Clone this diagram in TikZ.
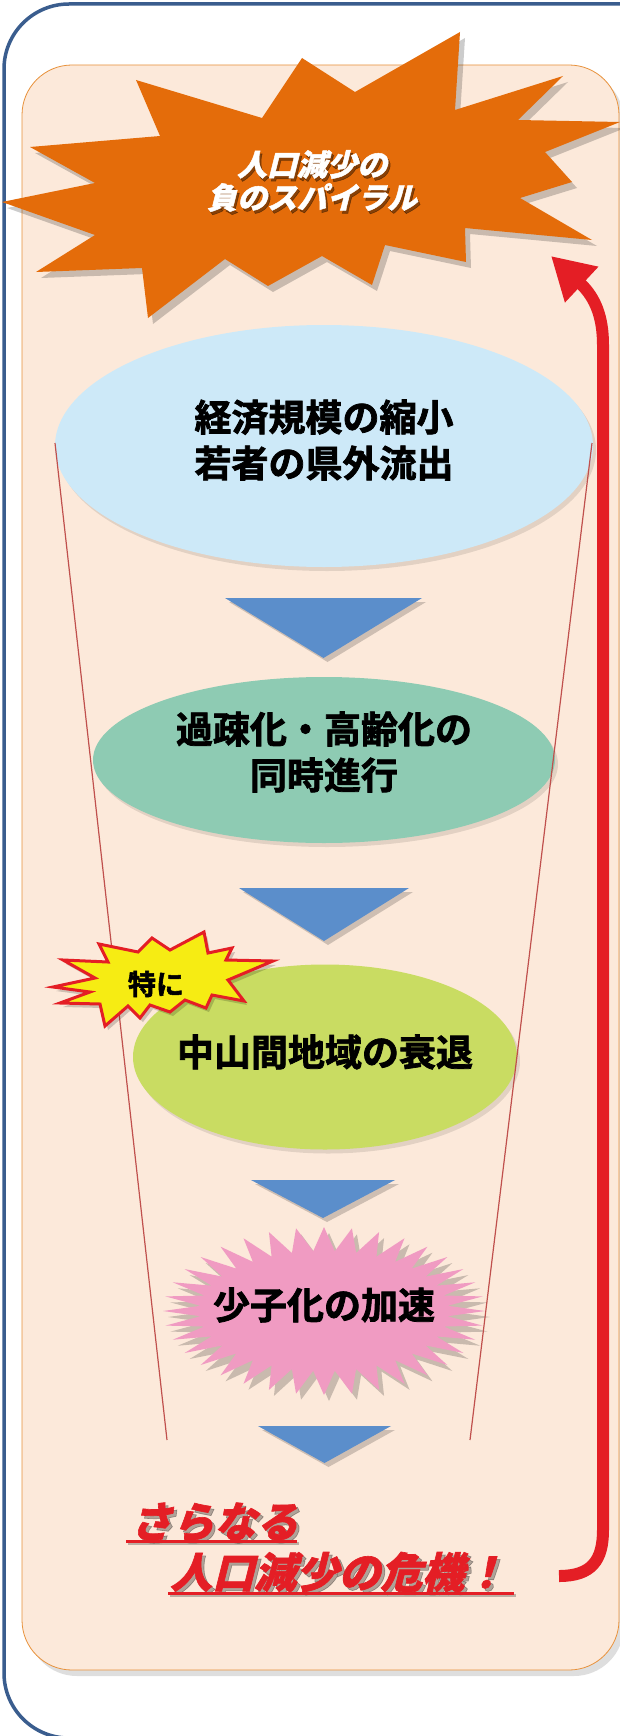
\documentclass[tikz,border=0pt]{standalone}
\usepackage{fontspec}
\newfontfamily\jpb{Noto Sans CJK JP Bold}[FakeBold=2]
\newfontfamily\jpsl{Noto Sans CJK JP Black}[FakeSlant=0.25, FakeBold=1.5]
\usetikzlibrary{shapes.geometric,arrows.meta,shadows}
\definecolor{peach}{HTML}{FCE9DA}
\definecolor{bordblue}{HTML}{3A5D8E}
\definecolor{starorange}{HTML}{E46C0A}
\definecolor{ellblue}{HTML}{CDE9F8}
\definecolor{ellteal}{HTML}{8ECBB3}
\definecolor{ellgreen}{HTML}{C9DC62}
\definecolor{starpink}{HTML}{F09BC2}
\definecolor{triblue}{HTML}{5B8ECB}
\definecolor{arrred}{HTML}{E41E25}
\definecolor{funnelred}{HTML}{C0504D}
\definecolor{staryellow}{HTML}{F6EC13}
\definecolor{boxline}{HTML}{E8913A}
\newcommand\downtri[4]{%
  \fill[black,opacity=.18] (#1+4,#3+4) -- (#2+4,#3+4) -- ({(#1+#2)/2+4},#4+4) -- cycle;
  \fill[triblue] (#1,#3) -- (#2,#3) -- ({(#1+#2)/2},#4) -- cycle;}
\def\orangestar{(2,202) -- (95,183) -- (30,147) -- (160,136) -- (136,80) -- (262,118) -- (302,58) -- (355,92) -- (460,32) -- (455,110) -- (563,76) -- (518,120) -- (620,122) -- (545,152) -- (572,182) -- (520,198) -- (592,240) -- (465,228) -- (466,262) -- (385,245) -- (372,285) -- (322,256) -- (268,286) -- (225,259) -- (148,318) -- (142,268) -- (36,272) -- (95,235) -- cycle}
\def\yellowstar{(53,987) -- (95,978) -- (63,960) -- (108,962) -- (99,944) -- (138,952) -- (152,938) -- (170,950) -- (204,932) -- (208,953) -- (232,948) -- (226,960) -- (273,961) -- (228,980) -- (244,1001) -- (212,995) -- (206,1008) -- (185,1000) -- (170,1012) -- (150,1005) -- (140,1018) -- (128,1006) -- (105,1026) -- (100,1004) -- (60,1003) -- (90,992) -- cycle}
\begin{document}
\begin{tikzpicture}[x=1pt,y=-1pt,
  ell/.style={ellipse, inner sep=0pt,
    drop shadow={shadow xshift=3pt, shadow yshift=-4pt, fill=black, opacity=0.1}},
  bodytext/.style={font=\jpb\fontsize{37}{46}\selectfont, inner sep=0pt, align=center},
  redtext/.style={font=\jpsl\fontsize{42}{42}\selectfont, text=arrred, inner sep=0pt, anchor=west},
  redshadow/.style={font=\jpsl\fontsize{42}{42}\selectfont, text=black, opacity=0.3, inner sep=0pt, anchor=west},
  funnel/.style={funnelred, line width=1.2pt}]
\useasboundingbox (0,0) rectangle (620,1736);
\clip (0,0) rectangle (620,1736);
\fill[white] (0,0) rectangle (620,1736);
% outer frame
\draw[bordblue, line width=3.5pt, rounded corners=65pt] (4,4) rectangle (720,1738);
% peach panel
\fill[black, opacity=0.13, rounded corners=50pt] (27,71) rectangle (624,1676);
\draw[boxline, line width=0.8pt, fill=peach, rounded corners=50pt] (22,65) rectangle (619,1670);
% orange star
\fill[black, opacity=0.2, shift={(5,6)}] \orangestar;
\fill[starorange] \orangestar;
\node[font=\jpsl\fontsize{30}{33}\selectfont, text=black, opacity=0.4, align=center] at (314,184) {人口減少の\\負のスパイラル};
\node[font=\jpsl\fontsize{30}{33}\selectfont, text=white, align=center] (title) at (312,181) {人口減少の\\負のスパイラル};
% red return arrow
\coordinate (arrS) at (559,1576);
\coordinate (arrE) at (551,256);
\draw[arrred, line width=12pt, -{Triangle[length=42pt,width=46pt]}]
  (arrS) .. controls (592,1576) and (603,1560) .. (603,1530) -- (603,345)
  .. controls (603,318) and (596,298) .. (arrE);
% ellipses
\node[ell, fill=ellblue, minimum width=538pt, minimum height=242pt] (e1) at (324,446) {};
\node[bodytext] (e1t) at (324,440) {経済規模の縮小\\若者の県外流出};
\downtri{225}{422}{598}{658}
\node[ell, fill=ellteal, minimum width=462pt, minimum height=166pt] (e2) at (324,760) {};
\node[bodytext] (e2t) at (324,752) {過疎化・高齢化の\\同時進行};
\downtri{239}{409}{888}{941}
\node[ell, fill=ellgreen, minimum width=384pt, minimum height=185pt] (e3) at (325,1057) {};
\node[bodytext] (e3t) at (325,1052) {中山間地域の衰退};
\downtri{251}{395}{1180}{1218}
% pink burst
\begin{scope}[shift={(324,1311)}]
\fill[black, opacity=0.2, shift={(5,6)}] (0:161 and 84) \foreach \a in {0,10,...,350}{ -- ({\a+5}:124 and 60) -- ({\a+10}:161 and 84)} -- cycle;
\fill[starpink] (0:161 and 84) \foreach \a in {0,10,...,350}{ -- ({\a+5}:124 and 60) -- ({\a+10}:161 and 84)} -- cycle;
\end{scope}
\node[bodytext] (e4) at (324,1305) {少子化の加速};
\downtri{258}{391}{1426}{1463}
% funnel lines
\coordinate (fl1) at (55,443);
\coordinate (fl2) at (167,1440);
\coordinate (fr1) at (592,443);
\coordinate (fr2) at (470,1440);
\draw[funnel] (fl1) -- (fl2);
\draw[funnel] (fr1) -- (fr2);
% yellow star
\fill[black, opacity=0.18, shift={(3,4)}] \yellowstar;
\filldraw[fill=staryellow, draw=arrred, line width=3pt, line join=miter] \yellowstar;
\node[font=\jpb\fontsize{28}{28}\selectfont, inner sep=0pt] (toku) at (156,984) {特に};
% red closing text
\node[redshadow] at (133,1525) {さらなる};
\node[redtext] (t1) at (130,1522) {さらなる};
\draw[black, opacity=0.25, line width=3pt] (128,1543) -- (299,1543);
\draw[arrred, line width=3pt] (126,1541) -- (297,1541);
\node[redshadow] at (173,1575) {人口減少の危機！};
\node[redtext] (t2) at (170,1572) {人口減少の危機！};
\draw[black, opacity=0.25, line width=3pt] (170,1595) -- (516,1595);
\draw[arrred, line width=3pt] (168,1593) -- (514,1593);
\end{tikzpicture}
\end{document}
